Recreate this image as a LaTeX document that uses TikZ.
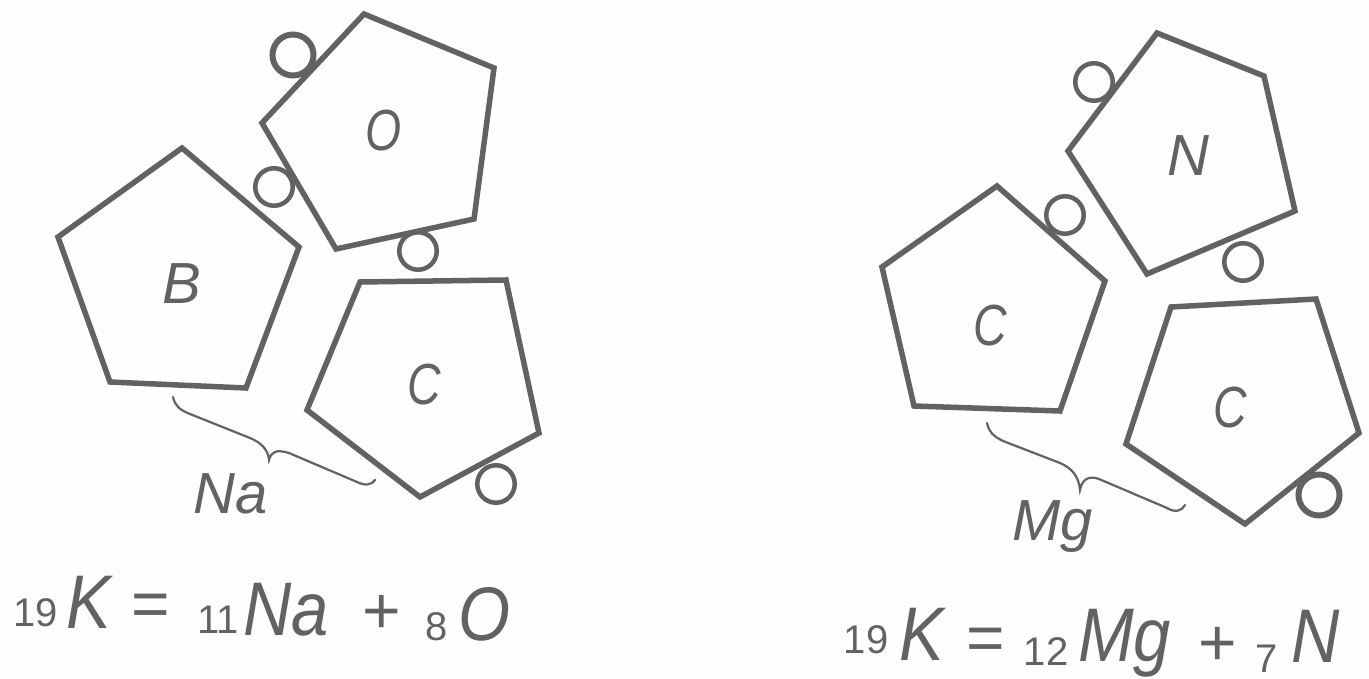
\documentclass[tikz,border=0pt]{standalone}
\usepackage{fontspec}
\setmainfont{Liberation Sans}
\newfontfamily\narrowf[FakeStretch=0.8]{Liberation Sans}
\newfontfamily\bigf[FakeStretch=0.88]{Liberation Sans}
\definecolor{ink}{RGB}{100,98,97}
\definecolor{paper}{RGB}{254,254,252}
\tikzset{
 x=1pt,y=-1pt,
 penta/.style={draw=ink,line width=5.5pt,line join=miter},
 ring/.style={circle,draw=ink,line width=4.5pt,minimum size=37.5pt,inner sep=0pt},
 ringb/.style={circle,draw=ink,line width=6pt,minimum size=41pt,inner sep=0pt},
 bracket/.style={draw=ink,line width=2.2pt,line cap=round},
 lab/.style={text=ink,font=\itshape\fontsize{58}{58}\selectfont,inner sep=0pt},
 labn/.style={text=ink,font=\narrowf\itshape\fontsize{58}{58}\selectfont,inner sep=0pt},
 big/.style={text=ink,font=\bigf\itshape\fontsize{76}{76}\selectfont,inner sep=0pt,anchor=base west},
 small/.style={text=ink,font=\fontsize{40}{40}\selectfont,inner sep=0pt},
 sym/.style={text=ink,font=\fontsize{66}{66}\selectfont,inner sep=0pt},
}
\begin{document}
\begin{tikzpicture}
\useasboundingbox (0,0) rectangle (1369,679);
\fill[paper] (0,0) rectangle (1369,679);
% left group
\draw[penta] (364,14) -- (494,68) -- (474,219) -- (336,249) -- (262,123) -- cycle;
\draw[penta] (182,148) -- (299,247) -- (246,388) -- (110,382) -- (58,237) -- cycle;
\draw[penta] (360,282) -- (506,280) -- (539,433) -- (420,497) -- (307,410) -- cycle;
\node[ringb] (r1) at (293,55) {};
\node[ring] (r2) at (274,187) {};
\node[ring] (r3) at (418,251) {};
\node[ring] (r4) at (496,484) {};
\node[labn] (t1) at (384,131) {O};
\node[lab] (t2) at (182,284) {B};
\node[labn] (t3) at (424,385) {C};
\draw[bracket] (173,397) .. controls (175,406) and (180,410) .. (190,414) -- (250,438) .. controls (262,443) and (268,450) .. (269,460) .. controls (271,452) and (276,449) .. (289,453) -- (357,482) .. controls (365,486) and (372,485) .. (375,480);
\node[lab,anchor=base west] (na) at (193,513) {Na};
\node[small] (a1) at (36,613) {19};
\node[big] (a2) at (66,628) {K};
\node[sym] (a3) at (151,610) {=};
\node[small] (a4) at (218,620) {11};
\node[big] (a5) at (243,635) {Na};
\node[sym] (a6) at (382,614) {+};
\node[small] (a7) at (437,627) {8};
\node[big] (a8) at (458,640) {O};
% right group
\draw[penta] (1157,33) -- (1264,76) -- (1295,211) -- (1147,274) -- (1068,151) -- cycle;
\draw[penta] (997,186) -- (1105,281) -- (1060,411) -- (914,406) -- (882,267) -- cycle;
\draw[penta] (1171,307) -- (1316,299) -- (1359,433) -- (1245,524) -- (1126,444) -- cycle;
\node[ring] (r5) at (1094,82) {};
\node[ring] (r6) at (1065,215) {};
\node[ring] (r7) at (1243,262) {};
\node[ringb] (r8) at (1319,495) {};
\node[lab] (t4) at (1188,156) {N};
\node[labn] (t5) at (990,326) {C};
\node[labn] (t6) at (1230,408) {C};
\draw[bracket] (987,423) .. controls (989,432) and (993,436) .. (1003,441) -- (1060,463) .. controls (1072,468) and (1079,477) .. (1080,490) .. controls (1082,480) and (1088,475) .. (1099,479) -- (1167,508) .. controls (1175,513) and (1182,511) .. (1185,505);
\node[lab,anchor=base west] (mg) at (1012,540) {Mg};
\node[small] (b1) at (866,640) {19};
\node[big] (b2) at (899,660) {K};
\node[sym] (b3) at (986,644) {=};
\node[small] (b4) at (1046,652) {12};
\node[big] (b5) at (1078,661) {Mg};
\node[sym] (b6) at (1218,646) {+};
\node[small] (b7) at (1267,659) {7};
\node[big] (b8) at (1291,662) {N};
\end{tikzpicture}
\end{document}
